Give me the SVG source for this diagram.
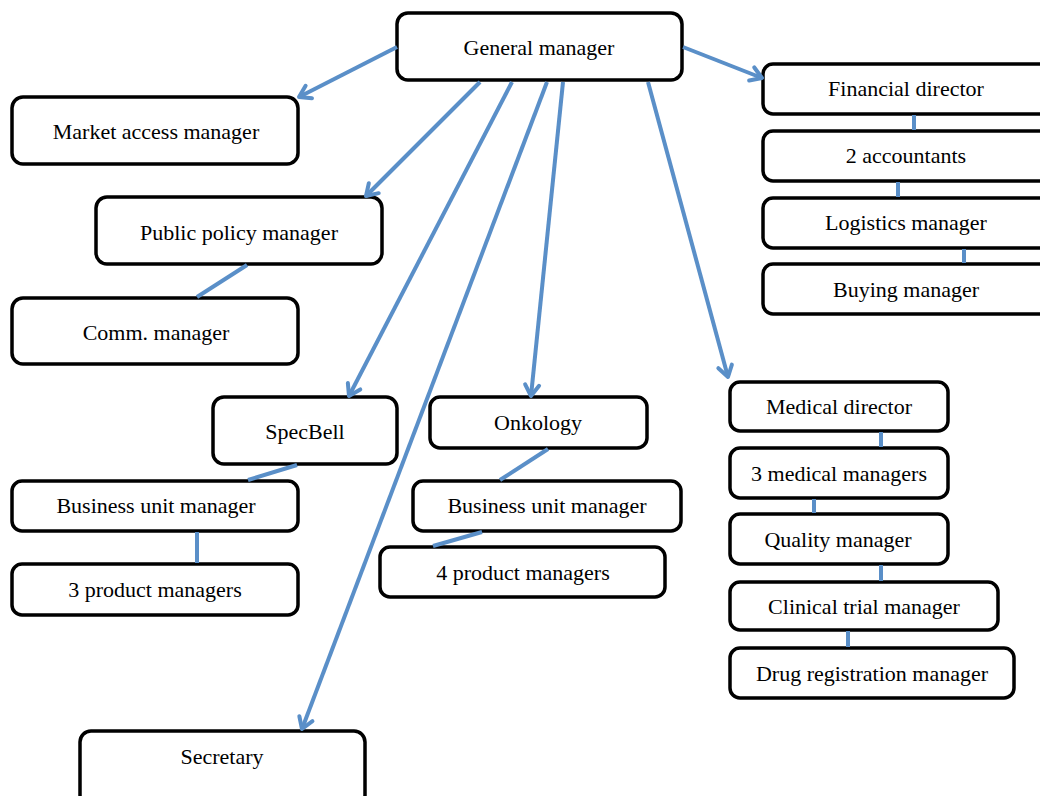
<svg xmlns="http://www.w3.org/2000/svg" width="1040" height="796" viewBox="0 0 1040 796">
<style>
.box{fill:#fff;stroke:#000;stroke-width:3.5}
.lbl{font-family:"Liberation Serif","Times New Roman",serif;font-size:22px;fill:#000;text-anchor:middle}
.con{stroke:#5a8fc8;stroke-width:4;fill:none}
.arr{marker-end:url(#ah)}
</style>
<defs>
<marker id="ah" markerUnits="userSpaceOnUse" markerWidth="16" markerHeight="16" viewBox="0 0 16 16" refX="13" refY="8" orient="auto" overflow="visible">
<path d="M2,1 L13,8 L2,15" fill="none" stroke="#5a8fc8" stroke-width="4" stroke-linecap="round" stroke-linejoin="round"/>
</marker>
</defs>
<rect width="1040" height="796" fill="#fff"/>
<g id="nodes">
<g id="n-general"><rect class="box" x="397" y="13" width="285" height="67" rx="11"/><text class="lbl" x="539" y="55">General manager</text></g>
<g id="n-market"><rect class="box" x="12" y="97" width="286" height="67" rx="11"/><text class="lbl" x="156" y="139">Market access manager</text></g>
<g id="n-public"><rect class="box" x="96" y="197" width="286" height="67" rx="11"/><text class="lbl" x="239" y="240">Public policy manager</text></g>
<g id="n-comm"><rect class="box" x="12" y="298" width="286" height="66" rx="11"/><text class="lbl" x="156" y="340">Comm. manager</text></g>
<g id="n-specbell"><rect class="box" x="213" y="397" width="184" height="67" rx="11"/><text class="lbl" x="305" y="439">SpecBell</text></g>
<g id="n-onkology"><rect class="box" x="430" y="397" width="217" height="51" rx="10"/><text class="lbl" x="538" y="430">Onkology</text></g>
<g id="n-bu1"><rect class="box" x="12" y="481" width="286" height="50" rx="10"/><text class="lbl" x="156" y="513">Business unit manager</text></g>
<g id="n-pm3"><rect class="box" x="12" y="564" width="286" height="51" rx="10"/><text class="lbl" x="155" y="597">3 product managers</text></g>
<g id="n-bu2"><rect class="box" x="413" y="481" width="268" height="50" rx="10"/><text class="lbl" x="547" y="513">Business unit manager</text></g>
<g id="n-pm4"><rect class="box" x="380" y="547" width="285" height="50" rx="10"/><text class="lbl" x="523" y="580">4 product managers</text></g>
<g id="n-secretary"><rect class="box" x="80" y="731" width="285" height="75" rx="11"/><text class="lbl" x="222" y="764">Secretary</text></g>
<g id="n-financial"><rect class="box" x="763" y="64" width="292" height="50" rx="10"/><text class="lbl" x="906" y="96">Financial director</text></g>
<g id="n-accountants"><rect class="box" x="763" y="131" width="292" height="50" rx="10"/><text class="lbl" x="906" y="163">2 accountants</text></g>
<g id="n-logistics"><rect class="box" x="763" y="198" width="292" height="50" rx="10"/><text class="lbl" x="906" y="230">Logistics manager</text></g>
<g id="n-buying"><rect class="box" x="763" y="264" width="292" height="50" rx="10"/><text class="lbl" x="906" y="297">Buying manager</text></g>
<g id="n-medical"><rect class="box" x="730" y="382" width="218" height="49" rx="10"/><text class="lbl" x="839" y="414">Medical director</text></g>
<g id="n-medmgrs"><rect class="box" x="730" y="448" width="218" height="50" rx="10"/><text class="lbl" x="839" y="481">3 medical managers</text></g>
<g id="n-quality"><rect class="box" x="730" y="514" width="218" height="50" rx="10"/><text class="lbl" x="838" y="547">Quality manager</text></g>
<g id="n-clinical"><rect class="box" x="730" y="582" width="268" height="48" rx="10"/><text class="lbl" x="864" y="614">Clinical trial manager</text></g>
<g id="n-drug"><rect class="box" x="730" y="648" width="284" height="50" rx="10"/><text class="lbl" x="872" y="681">Drug registration manager</text></g>
</g>
<g id="connectors">
<line class="con arr" x1="397" y1="47" x2="299" y2="97"/>
<line class="con arr" x1="480" y1="82" x2="366" y2="196"/>
<line class="con arr" x1="512" y1="82" x2="349" y2="396"/>
<line class="con arr" x1="547" y1="82" x2="302" y2="729"/>
<line class="con arr" x1="563" y1="82" x2="531" y2="396"/>
<line class="con arr" x1="648" y1="82" x2="728" y2="377"/>
<line class="con arr" x1="683" y1="47" x2="762" y2="78"/>
<line class="con" x1="247" y1="265" x2="197" y2="297"/>
<line class="con" x1="297" y1="465" x2="248" y2="480"/>
<line class="con" x1="197" y1="532" x2="197" y2="563"/>
<line class="con" x1="548" y1="449" x2="500" y2="480"/>
<line class="con" x1="482" y1="532" x2="433" y2="546"/>
<line class="con" x1="914" y1="115" x2="914" y2="130"/>
<line class="con" x1="898" y1="182" x2="898" y2="197"/>
<line class="con" x1="964" y1="249" x2="964" y2="263"/>
<line class="con" x1="881" y1="432" x2="881" y2="447"/>
<line class="con" x1="814" y1="499" x2="814" y2="513"/>
<line class="con" x1="881" y1="565" x2="881" y2="581"/>
<line class="con" x1="848" y1="631" x2="848" y2="647"/>
</g>
</svg>
